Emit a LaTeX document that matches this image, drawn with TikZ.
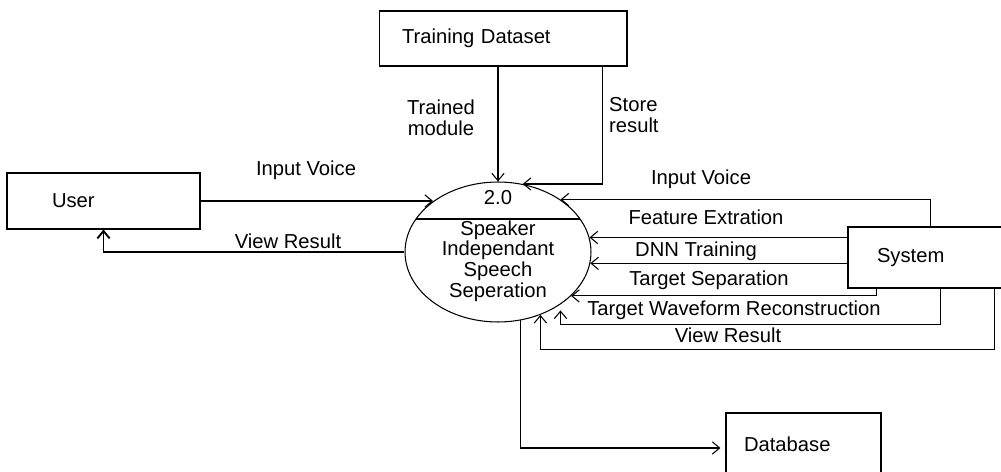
\documentclass[tikz,border=0pt]{standalone}
\usepackage{fontspec}
\setmainfont{Liberation Sans}
\usepackage{tikz}
\usetikzlibrary{shapes}
\usetikzlibrary{arrows.meta}
\tikzstyle{arrow}= [line width=0.6pt, -{Straight Barb[length=4.2pt,width=7pt]}]
\tikzstyle{bigarrow}= [line width=1.1pt, -{Straight Barb[length=4.2pt,width=7pt]}]

\begin{document}
\begin{tikzpicture}[
    x=0.02cm,y=-0.02cm,
    font=\fontsize{11.5}{11.8}\selectfont,
    entity/.style={
    draw,line width=0.6pt,align=left,inner ysep=0pt,
    },
    process/.style={
    draw,ellipse,line width=0.6pt,inner sep=0pt,minimum width=3.72cm,minimum height=2.8cm,
    }
  ]
  \useasboundingbox (0,0) rectangle (1001,472);

  \node[entity,minimum width=3.86cm,minimum height=1.12cm,text width=2.06cm,inner xsep=0.9cm] (user) at (103.5,201) {User};
  \node[entity,minimum width=4.96cm,minimum height=1.1cm,text width=4.04cm,inner xsep=0.46cm] (train) at (503,38.5) {Training Dataset};
  \node[entity,minimum width=3.14cm,minimum height=1.22cm,text width=1.98cm,inner xsep=0.58cm] (system) at (926.5,257.5) {System};
  \node[entity,minimum width=3.1cm,minimum height=1.24cm,text width=2.38cm,inner xsep=0.36cm] (db) at (803.5,444) {Database};
  \node[process] (proc) at (498,252) {};
  \node (procid) at (498,198) {2.0};
  \node[align=center] (procname) at (498,261) {Speaker\\Independant\\Speech\\Seperation};
  \draw[line width=1.1pt] (proc.158) -- (proc.22);

  \draw[arrow] (train.south -| proc.north) -- (proc.north);
  \draw[arrow] ([xshift=-0.5cm]train.south east) |- (proc.70);
  \draw[arrow] (user.east) -- (user.east -| proc.142);
  \draw[bigarrow] (proc.west) -| (user.south);
  \draw[arrow] ([xshift=1.66cm]system.north west) |- (proc.40);
  \draw[arrow] (system.west |- proc.9) -- (proc.9);
  \draw[arrow] (system.west |- proc.-7) -- (proc.-7);
  \draw[arrow] ([xshift=0.58cm]system.south west) |- (proc.-31);
  \draw[arrow] ([xshift=1.86cm]system.south west) |- ([yshift=-0.4cm]proc.-40) -- ([yshift=-0.12cm]proc.-40);
  \draw[arrow] ([xshift=2.94cm]system.south west) |- ([yshift=-0.7cm]proc.-56) -- (proc.-56);
  \draw[arrow] (proc.-72) |- ([xshift=-0.1cm,yshift=-0.08cm]db.west);

  \node[align=center] (trainedlbl) at (441,118) {Trained\\module};
  \node[align=left,anchor=west] (storelbl) at (603,115) {Store\\result};
  \node (uservoicelbl) at (306,170) {Input Voice};
  \node (userviewlbl) at (288,241) {View Result};
  \node (sysvoicelbl) at (701,179) {Input Voice};
  \node (featlbl) at (706,217) {Feature Extration};
  \node (dnnlbl) at (696,251) {DNN Training};
  \node (seplbl) at (709,280) {Target Separation};
  \node (wavelbl) at (734,310) {Target Waveform Reconstruction};
  \node (sysviewlbl) at (728,335) {View Result};
\end{tikzpicture}
\end{document}
